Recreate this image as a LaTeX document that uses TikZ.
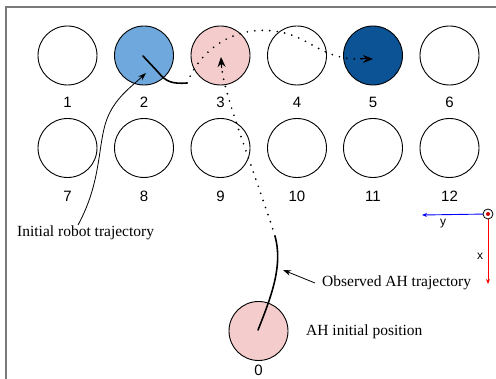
\documentclass[tikz,border=0pt]{standalone}
\usepackage{fontspec}
\setmainfont{Liberation Serif}
\setsansfont{Liberation Sans}
\usetikzlibrary{arrows.meta}
\definecolor{cellblue}{HTML}{6FA8DC}
\definecolor{celldark}{HTML}{0B5394}
\definecolor{cellpink}{HTML}{F4CCCC}
\definecolor{framegray}{HTML}{7A7A7A}
\tikzset{
  cell/.style={circle, draw=black, line width=0.9pt, minimum size=59pt, inner sep=0pt},
  celllabel/.style={font=\sffamily\fontsize{15}{15}\selectfont, inner sep=0pt},
  note/.style={font=\fontsize{15.5}{16}\selectfont, inner sep=0pt, anchor=west},
  path solid/.style={line width=1.6pt, line cap=round},
  path dotted/.style={line width=1.9pt, line cap=round, dash pattern=on 0pt off 7.5pt},
  pointer/.style={line width=0.8pt, -{Stealth[length=8pt,width=5.5pt]}},
  axislabel/.style={font=\sffamily\fontsize{12}{12}\selectfont, inner sep=0pt}
}
\begin{document}
\begin{tikzpicture}[x=1pt, y=-1pt]
\useasboundingbox (0,0) rectangle (496,379);
\fill[white] (0,0) rectangle (496,379);
% frame edges
\draw[framegray, line width=2pt] (496,7) -- (6,7) -- (6,379);

% grid of cells
\foreach \n/\x/\y/\c in {1/67.5/55.5/white, 2/144/55.5/cellblue, 3/220.5/55.5/cellpink,
  4/297/55.5/white, 5/373/55.5/celldark, 6/449.5/55.5/white,
  7/67.5/148/white, 8/144/148/white, 9/220.5/148/white,
  10/297/148/white, 11/373/148/white, 12/449.5/148/white}{
  \node[cell, fill=\c] (c\n) at (\x,\y) {};
}
\foreach \n in {1,...,6}{ \node[celllabel] (l\n) at ([yshift=-46.5pt]c\n.center) {\n}; }
\foreach \n in {7,...,12}{ \node[celllabel] (l\n) at ([yshift=-48pt]c\n.center) {\n}; }

% initial position of the AH
\node[cell, fill=cellpink] (c0) at (258.5,331) {};
\node[celllabel] (l0) at (258.5,370.5) {0};

% robot trajectory: solid start, then dotted towards cell 5
\coordinate (r0) at (143,56);
\coordinate (r1) at (187,83);
\coordinate (r2) at (373,59);
\draw[path solid] (r0) -- (158,72) .. controls (166,82) and (172,84) .. (r1);
\draw[path dotted] (r1) .. controls (205,40) and (245,25) .. (280,32)
  .. controls (312,38) and (322,60) .. (362,59);
\draw[-{Stealth[length=10pt,width=8pt]}, line width=1pt] (360,59) -- (r2);

% AH trajectory: observed solid part, predicted dotted part
\coordinate (h0) at (258,330);
\coordinate (h1) at (275,236);
\coordinate (h2) at (221,57);
\draw[path solid] (h0) .. controls (272,295) and (283,265) .. (h1);
\draw[path dotted] (h1) .. controls (252,165) and (226,100) .. (222,70);
\draw[-{Stealth[length=10pt,width=8pt]}, line width=1pt] (221.6,68) -- (h2);

% annotations
\node[note] (t1) at (17,233) {Initial robot trajectory};
\node[note] (t2) at (322,283) {Observed AH trajectory};
\node[note] (t3) at (306,332) {AH initial position};
\draw[pointer] (78,225) .. controls (100,185) and (98,150) .. (105,125)
  .. controls (112,100) and (130,88) .. (146,73);
\draw[pointer] (t2.west) ++(-7,0) -- (283,270);

% reference frame
\coordinate (o) at (488,214);
\draw[blue, line width=0.9pt, -{Stealth[length=5pt,width=4pt]}] (o) -- (422,215);
\draw[red, line width=0.9pt, -{Stealth[length=5pt,width=4pt]}] (o) -- (488,284);
\draw[black, line width=0.8pt, fill=white] (o) circle (5pt);
\fill[red!80!black] (o) circle (2pt);
\node[axislabel] (ay) at (443,224) {y};
\node[axislabel] (ax) at (480,256) {x};
\end{tikzpicture}
\end{document}
